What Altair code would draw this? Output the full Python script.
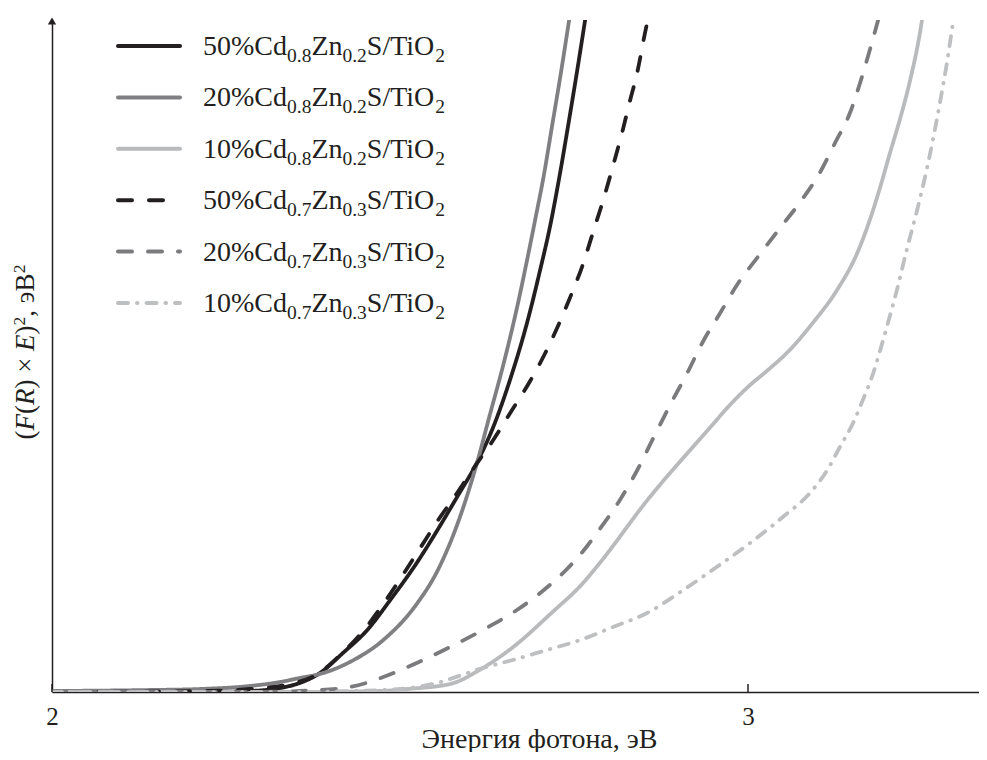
import altair as alt
import pandas as pd

# ---------------- data ----------------
series = [
    "50%Cd0.8Zn0.2S/TiO2",
    "20%Cd0.8Zn0.2S/TiO2",
    "10%Cd0.8Zn0.2S/TiO2",
    "50%Cd0.7Zn0.3S/TiO2",
    "20%Cd0.7Zn0.3S/TiO2",
    "10%Cd0.7Zn0.3S/TiO2",
]
pct = ["50%", "20%", "10%", "50%", "20%", "10%"]
cd_sub = ["0.8", "0.8", "0.8", "0.7", "0.7", "0.7"]
zn_sub = ["0.2", "0.2", "0.2", "0.3", "0.3", "0.3"]

# photon energy (eV) and (F(R)xE)^2 (arbitrary units)
e1 = [2.000, 2.213, 2.284, 2.328, 2.356, 2.385, 2.418, 2.453, 2.486, 2.524, 2.553,
      2.582, 2.611, 2.634, 2.658, 2.684, 2.701, 2.716, 2.730, 2.741, 2.754, 2.766]
y1 = [0, 0, 1, 4, 9, 19, 39, 62, 92, 129, 161, 195, 230, 265, 312, 373, 421, 467,
      519, 564, 619, 672]

e2 = [2.000, 2.141, 2.213, 2.284, 2.328, 2.356, 2.385, 2.428, 2.476, 2.524, 2.553,
      2.582, 2.611, 2.629, 2.648, 2.668, 2.682, 2.695, 2.707, 2.718, 2.730, 2.743]
y2 = [1, 2, 3, 6, 10, 14, 18, 30, 52, 88, 120, 167, 230, 277, 326, 384, 430, 475,
      518, 564, 614, 672]

e3 = [2.000, 2.356, 2.471, 2.510, 2.572, 2.619, 2.668, 2.716, 2.763, 2.787, 2.859,
      2.888, 2.917, 2.945, 2.974, 3.003, 3.027, 3.060, 3.093, 3.128, 3.157, 3.175,
      3.190, 3.204, 3.218, 3.233, 3.247, 3.250]
y3 = [0, 0, 1, 3, 8, 24, 48, 78, 109, 129, 195, 219, 242, 264, 287, 307, 321, 342,
      369, 402, 439, 472, 505, 539, 572, 612, 659, 672]

e4 = [2.000, 2.213, 2.284, 2.342, 2.382, 2.414, 2.447, 2.476, 2.504, 2.529, 2.553,
      2.582, 2.611, 2.634, 2.661, 2.687, 2.708, 2.727, 2.747, 2.763, 2.777, 2.792,
      2.806, 2.819, 2.830, 2.841, 2.852, 2.856]
y4 = [0, 1, 3, 8, 18, 37, 61, 88, 117, 144, 170, 199, 229, 252, 282, 311, 338, 366,
      399, 428, 459, 492, 526, 559, 590, 620, 659, 672]

e5 = [2.000, 2.284, 2.356, 2.428, 2.476, 2.524, 2.572, 2.619, 2.668, 2.705, 2.740,
      2.769, 2.787, 2.816, 2.841, 2.864, 2.888, 2.912, 2.935, 2.960, 2.986, 3.014,
      3.046, 3.075, 3.103, 3.125, 3.147, 3.161, 3.175, 3.187]
y5 = [0, 0, 1, 5, 15, 29, 45, 62, 82, 101, 123, 146, 163, 192, 222, 254, 287, 318,
      350, 379, 409, 435, 464, 490, 519, 549, 580, 609, 642, 672]

e6 = [2.000, 2.356, 2.428, 2.500, 2.547, 2.619, 2.662, 2.711, 2.759, 2.806, 2.855,
      2.907, 2.955, 3.003, 3.050, 3.089, 3.114, 3.132, 3.151, 3.165, 3.180, 3.190,
      3.201, 3.214, 3.228, 3.243, 3.256, 3.267, 3.277, 3.286, 3.295]
y6 = [0, 0, 1, 3, 8, 24, 32, 42, 52, 65, 79, 102, 125, 149, 175, 199, 222, 245, 269,
      292, 319, 342, 369, 402, 442, 482, 520, 557, 594, 630, 672]

x_ticks = [2, 3]
x_title = "Энергия фотона, эВ"
# y title pieces: (text, italic, superscript)
y_title_parts = [("(", False, False), ("F", True, False), ("(", False, False),
                 ("R", True, False), (") × ", False, False), ("E", True, False),
                 (")", False, False), ("2", False, True), (", эВ", False, False),
                 ("2", False, True)]

# ---------------- styles ----------------
colors = ["#231f20", "#808083", "#b9babc", "#231f20", "#7b7b7e", "#bebfc1"]
dashes = [[1, 0], [1, 0], [1, 0], [14, 17], [14, 16], [10, 9, 0.5, 9]]
INK = "#231f20"
FONT = "Liberation Serif"

W, H = 927, 672
X_MAX = 2 + W / 696.0

rows = []
for name, ee, yy in zip(series, [e1, e2, e3, e4, e5, e6], [y1, y2, y3, y4, y5, y6]):
    for a, b in zip(ee, yy):
        rows.append({"series": name, "E": a, "F": b})
df = pd.DataFrame(rows)

leg = pd.DataFrame({
    "series": series,
    "row": list(range(len(series))),
    "p1": [p + "Cd" for p in pct],
    "p2": cd_sub,
    "p3": ["Zn"] * len(series),
    "p4": zn_sub,
    "p5": ["S/TiO"] * len(series),
    "p6": ["2"] * len(series),
})

xs = alt.Scale(domain=[2, X_MAX], nice=False, zero=False)
ys = alt.Scale(domain=[0, H], nice=False, zero=False)
cs = alt.Scale(domain=series, range=colors)
ds = alt.Scale(domain=series, range=dashes)

curves = alt.Chart(df).mark_line(
    strokeWidth=3.8, strokeCap="round", strokeJoin="round", interpolate="monotone", clip=True
).encode(
    x=alt.X("E:Q", scale=xs, axis=alt.Axis(
        values=x_ticks, format="d", title=x_title, ticks=False, grid=False,
        domainColor=INK, domainWidth=1.5, labelFont=FONT, labelFontSize=25,
        labelColor=INK, labelPadding=12, labelFlush=False, labelBound=False,
        titleFont=FONT, titleFontSize=28, titleFontWeight="normal", titleColor=INK,
        titleX=487, titleY=55, titleBaseline="alphabetic", titleAlign="center")),
    y=alt.Y("F:Q", scale=ys, axis=alt.Axis(
        labels=False, ticks=False, grid=False, title=None,
        domainColor=INK, domainWidth=1.5)),
    color=alt.Color("series:N", scale=cs, legend=None),
    strokeDash=alt.StrokeDash("series:N", scale=ds, legend=None),
    detail="series:N",
)

tick_df = pd.DataFrame({"E": x_ticks})
tick = alt.Chart(tick_df).mark_rule(color=INK, strokeWidth=1.5).encode(
    x=alt.X("E:Q", scale=xs), y=alt.value(H - 8), y2=alt.value(H)
)

arrow = alt.Chart(pd.DataFrame({"a": [0]})).mark_point(
    shape="triangle-up", filled=True, size=70, color=INK, opacity=1
).encode(x=alt.value(0), y=alt.value(1))

# legend built from the series table
base_leg = alt.Chart(leg).transform_calculate(
    lc=f"{H} - (26 + 51.4*datum.row)",
    lt=f"{H} - (35 + 51.4*datum.row)",
)

sym = base_leg.mark_rule(strokeWidth=4, strokeCap="round").encode(
    x=alt.value(66), x2=alt.value(128),
    y=alt.Y("lc:Q", scale=ys),
    color=alt.Color("series:N", scale=cs, legend=None),
    strokeDash=alt.StrokeDash("series:N", scale=ds, legend=None),
)

# Times-metric widths for placing text pieces
tw = {"0": .5, "1": .5, "2": .5, "3": .5, "5": .5, "7": .5, "8": .5, ".": .25,
      "%": .833, "C": .667, "d": .5, "Z": .611, "n": .5, "S": .556, "/": .278,
      "T": .611, "i": .278, "O": .722, "(": .333, ")": .333, " ": .25, "×": .564,
      "F": .611, "R": .611, "E": .611, ",": .25, "э": .444, "В": .667}
MAIN, SUB = 28, 19.5
pieces = [("p1", "50%Cd", MAIN, 0), ("p2", "0.8", SUB, 7), ("p3", "Zn", MAIN, 0),
          ("p4", "0.2", SUB, 7), ("p5", "S/TiO", MAIN, 0), ("p6", "2", SUB, 7)]
texts = []
xpos = 151.0
for field, sample, size, dy in pieces:
    texts.append(base_leg.mark_text(
        align="left", baseline="alphabetic", font=FONT, fontSize=size, dy=dy, color=INK
    ).encode(x=alt.value(xpos), y=alt.Y("lt:Q", scale=ys), text=f"{field}:N"))
    xpos += sum(tw[c] for c in sample) * size

# rotated y-axis title with italic symbols and superscripts
YT, YS = 27, 17.5
widths = [sum(tw[c] for c in t) * (YS if sup else YT) for t, it, sup in y_title_parts]
ypos = 332 + sum(widths) / 2.0
ytitle = []
ydf = pd.DataFrame({"t": [t for t, _, _ in y_title_parts]})
for (t, it, sup), w in zip(y_title_parts, widths):
    ytitle.append(alt.Chart(ydf).transform_filter(alt.datum.t == t).transform_window(
        n="row_number()").transform_filter("datum.n == 1").mark_text(
        align="left", baseline="alphabetic", angle=270, font=FONT,
        fontSize=YS if sup else YT, fontStyle="italic" if it else "normal",
        dy=-9 if sup else 0, color=INK, clip=False
    ).encode(x=alt.value(-18), y=alt.value(ypos), text="t:N"))
    ypos -= w

chart = alt.layer(curves, tick, arrow, sym, *texts, *ytitle).properties(
    width=W, height=H,
    autosize=alt.AutoSizeParams(type="none"),
    padding={"left": 44, "top": 12, "right": 0, "bottom": 60},
    background="white",
).configure_view(stroke=None)

chart.save("out.html", embed_options={"renderer": "svg", "actions": False})
